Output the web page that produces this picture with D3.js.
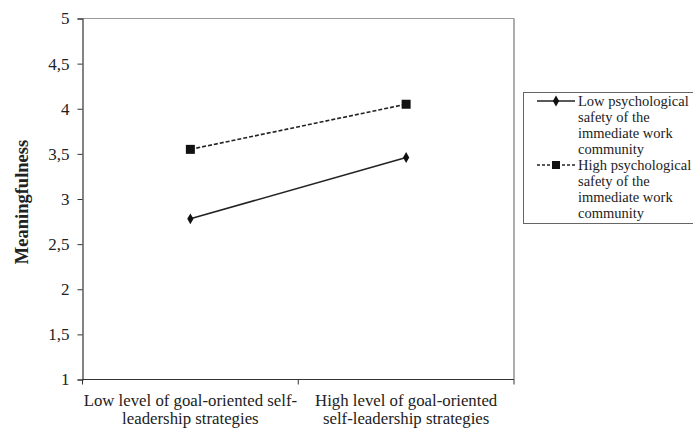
<!DOCTYPE html>
<html><head><meta charset="utf-8">
<script src="https://cdn.jsdelivr.net/npm/d3@7"></script>
<style>body{margin:0;background:#fff}svg{display:block}text{font-family:"Liberation Serif","Times New Roman",serif;fill:#222}</style>
</head><body><svg id="c" width="693" height="428"></svg>
<script>
const categories = [["Low level of goal-oriented self-","leadership strategies"],["High level of goal-oriented","self-leadership strategies"]];
const categoryKeys = ["low","high"];
const lowSafety = [2.78, 3.46];
const highSafety = [3.55, 4.05];
const yTicks = [1,1.5,2,2.5,3,3.5,4,4.5,5];
const yTickLabels = ["1","1,5","2","2,5","3","3,5","4","4,5","5"];
const seriesNames = [["Low psychological","safety of the","immediate work","community"],["High psychological","safety of the","immediate work","community"]];
const yTitle = "Meaningfulness";

const svg = d3.select("#c");
const L=82.5, T=18.5, R=514, B=379.5;
const x = d3.scaleBand().domain(categoryKeys).range([L,R]);
const y = d3.scaleLinear().domain([1,5]).range([B,T]);

svg.append("line").attr("x1",L).attr("x2",R).attr("y1",T).attr("y2",T).attr("stroke","#999").attr("stroke-width",1.2);
svg.append("line").attr("x1",R).attr("x2",R).attr("y1",T).attr("y2",B).attr("stroke","#999").attr("stroke-width",1.6);

const ya = svg.append("g").attr("transform",`translate(${L},0)`)
  .call(d3.axisLeft(y).tickValues(yTicks).tickFormat((d,i)=>yTickLabels[i]).tickSize(5).tickPadding(8));
ya.select(".domain").attr("stroke","#333").attr("stroke-width",1.2);
ya.selectAll(".tick line").attr("stroke","#333");
ya.selectAll("text").attr("font-size",17).attr("fill","#333").style("font-family","Liberation Serif");

const xa = svg.append("g").attr("transform",`translate(0,${B})`);
xa.append("line").attr("x1",L).attr("x2",R).attr("stroke","#333").attr("stroke-width",1.2);
const bounds=[L, x("high"), R];
xa.selectAll("line.tk").data(bounds).join("line").attr("class","tk").attr("x1",d=>d).attr("x2",d=>d).attr("y1",0).attr("y2",5).attr("stroke","#333");
categories.forEach((lines,i)=>{
  const cx = x(categoryKeys[i])+x.bandwidth()/2;
  const t = xa.append("text").attr("text-anchor","middle").attr("font-size",16.8).attr("fill","#333");
  lines.forEach((ln,j)=>t.append("tspan").attr("x",cx).attr("y",26+j*18).text(ln));
});

svg.append("text").attr("transform",`translate(28,202) rotate(-90)`).attr("text-anchor","middle")
  .attr("font-size",18.5).attr("font-weight","bold").attr("fill","#333").text(yTitle);

const cx = k => x(k)+x.bandwidth()/2;
const line = d3.line().x((d,i)=>cx(categoryKeys[i])).y(d=>y(d));
svg.append("path").attr("d",line(lowSafety)).attr("fill","none").attr("stroke","#222").attr("stroke-width",1.6);
svg.append("path").attr("d",line(highSafety)).attr("fill","none").attr("stroke","#222").attr("stroke-width",1.6).attr("stroke-dasharray","4,2");
const diamond = d3.symbol().type(d3.symbolDiamond).size(34);
svg.selectAll("path.dm").data(lowSafety).join("path").attr("class","dm").attr("d",diamond)
  .attr("transform",(d,i)=>`translate(${cx(categoryKeys[i])},${y(d)})`).attr("fill","#111");
svg.selectAll("rect.sq").data(highSafety).join("rect").attr("class","sq")
  .attr("x",(d,i)=>cx(categoryKeys[i])-4.5).attr("y",d=>y(d)-4.5).attr("width",9).attr("height",9).attr("fill","#111");

const lg = svg.append("g");
lg.append("rect").attr("x",523.5).attr("y",92.5).attr("width",180).attr("height",131).attr("fill","none").attr("stroke","#666").attr("stroke-width",1);
const ly=[101,165];
lg.append("line").attr("x1",537).attr("x2",575).attr("y1",ly[0]).attr("y2",ly[0]).attr("stroke","#222").attr("stroke-width",1.5);
lg.append("path").attr("d",diamond).attr("transform",`translate(556,${ly[0]})`).attr("fill","#111");
lg.append("line").attr("x1",537).attr("x2",575).attr("y1",ly[1]).attr("y2",ly[1]).attr("stroke","#222").attr("stroke-width",1.5).attr("stroke-dasharray","3,2");
lg.append("rect").attr("x",552).attr("y",ly[1]-4).attr("width",8).attr("height",8).attr("fill","#111");
seriesNames.forEach((lines,i)=>{
  const t = lg.append("text").attr("font-size",14.5).attr("fill","#333");
  lines.forEach((ln,j)=>t.append("tspan").attr("x",578).attr("y",ly[i]+5+j*16).text(ln));
});
</script></body></html>
